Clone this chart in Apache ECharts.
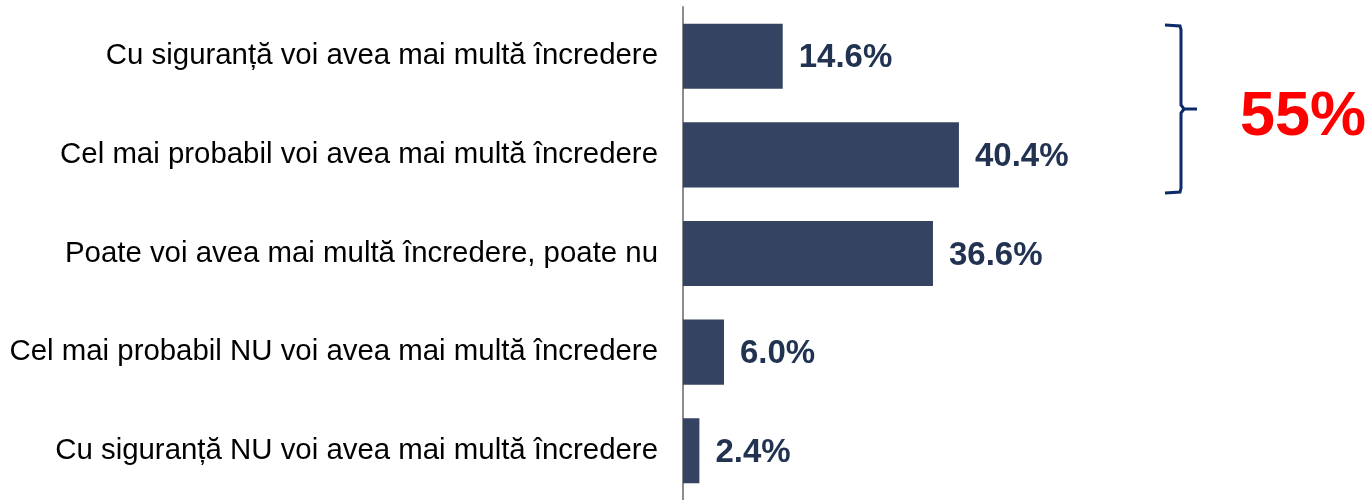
<!DOCTYPE html>
<html>
<head>
<meta charset="utf-8">
<script src="https://cdn.jsdelivr.net/npm/echarts@6/dist/echarts.min.js"></script>
<style>
html, body { margin: 0; padding: 0; background: #fff; }
#chart { width: 1369px; height: 500px; }
</style>
</head>
<body>
<div id="chart"></div>
<script>
var categories = [
	'Cu siguranță voi avea mai multă încredere',
	'Cel mai probabil voi avea mai multă încredere',
	'Poate voi avea mai multă încredere, poate nu',
	'Cel mai probabil NU voi avea mai multă încredere',
	'Cu siguranță NU voi avea mai multă încredere'
];
var values = [14.6, 40.4, 36.6, 6.0, 2.4];
var totalLabel = '55%';

var chart = echarts.init(document.getElementById('chart'));
var option = {
	animation: false,
	grid: {
		left: 683,
		top: 7,
		width: 683,
		height: 497
	},
	xAxis: {
		type: 'value',
		min: 0,
		max: 100,
		show: false
	},
	yAxis: {
		type: 'category',
		inverse: true,
		data: categories,
		axisLine: { show: true, lineStyle: { color: '#8c8c8c', width: 2 } },
		axisTick: { show: false },
		axisLabel: {
			margin: 25,
			color: '#000',
			fontSize: 29.4,
			fontFamily: 'Liberation Sans, Arial, sans-serif'
		}
	},
	series: [{
		type: 'bar',
		data: values,
		barCategoryGap: '34%',
		itemStyle: { color: '#334361' },
		label: {
			show: true,
			position: 'right',
			distance: 16,
			offset: [0, 2],
			color: '#223352',
			fontSize: 33,
			fontWeight: 'bold',
			fontFamily: 'Liberation Sans, Arial, sans-serif',
			formatter: function(p) {
				return p.value.toFixed(1) + '%';
			}
		}
	}],
	graphic: [{
		//括号
		type: 'polyline',
		shape: {
			points: [[1165, 25], [1180, 26], [1181, 30], [1181, 105], [1184, 109], [1197, 109]]
		},
		style: { stroke: '#0d2a6b', lineWidth: 3, fill: null }
	}, {
		type: 'polyline',
		shape: {
			points: [[1184, 109], [1181, 113], [1181, 188], [1180, 192], [1165, 193]]
		},
		style: { stroke: '#0d2a6b', lineWidth: 3, fill: null }
	}, {
		type: 'text',
		left: 1240,
		top: 86,
		style: {
			text: totalLabel,
			fill: '#ff0000',
			fontSize: 63,
			fontWeight: 'bold',
			fontFamily: 'Liberation Sans, Arial, sans-serif'
		}
	}]
};
chart.setOption(option);
</script>
</body>
</html>
